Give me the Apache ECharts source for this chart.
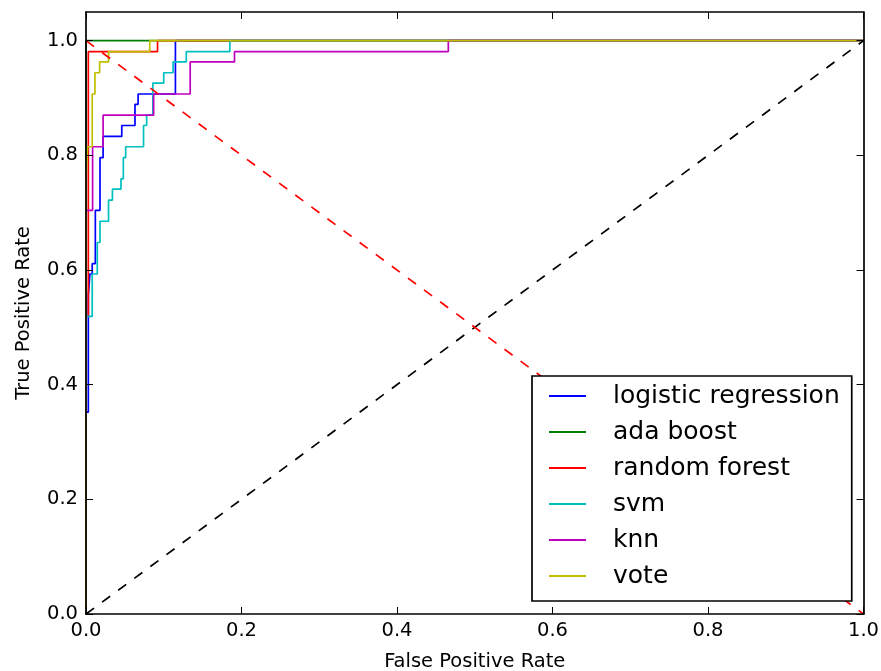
<!DOCTYPE html>
<html>
<head>
<meta charset="utf-8">
<title>ROC curves</title>
<script src="https://cdn.jsdelivr.net/npm/echarts@6/dist/echarts.min.js"></script>
<style>
  html, body { margin: 0; padding: 0; background: #ffffff; }
  #chart { width: 881px; height: 671px; }
</style>
</head>
<body>
<div id="chart"></div>
<script>
// ROC curve points [false positive rate, true positive rate] per model
const logisticRoc = [[0,0],[0,0.352],[0.003,0.352],[0.003,0.556],[0.005,0.556],[0.005,0.593],[0.008,0.593],[0.008,0.611],[0.012,0.611],[0.012,0.704],[0.018,0.704],[0.018,0.796],[0.022,0.796],[0.022,0.833],[0.046,0.833],[0.046,0.852],[0.063,0.852],[0.063,0.889],[0.067,0.889],[0.067,0.907],[0.115,0.907],[0.115,1],[1,1]];
const adaBoostRoc = [[0,0],[0,1],[1,1]];
const forestRoc = [[0,0],[0,0.519],[0.003,0.519],[0.003,0.981],[0.092,0.981],[0.092,1],[1,1]];
const svmRoc = [[0,0],[0,0.519],[0.008,0.519],[0.008,0.593],[0.0145,0.593],[0.0145,0.648],[0.018,0.648],[0.018,0.685],[0.029,0.685],[0.029,0.722],[0.034,0.722],[0.034,0.741],[0.045,0.741],[0.045,0.759],[0.048,0.759],[0.048,0.796],[0.051,0.796],[0.051,0.815],[0.074,0.815],[0.074,0.852],[0.078,0.852],[0.078,0.870],[0.086,0.870],[0.086,0.926],[0.100,0.926],[0.100,0.944],[0.112,0.944],[0.112,0.963],[0.129,0.963],[0.129,0.981],[0.185,0.981],[0.185,1],[1,1]];
const knnRoc = [[0,0],[0,0.704],[0.0085,0.704],[0.0085,0.815],[0.022,0.815],[0.022,0.870],[0.087,0.870],[0.087,0.907],[0.134,0.907],[0.134,0.963],[0.191,0.963],[0.191,0.981],[0.466,0.981],[0.466,1],[1,1]];
const voteRoc = [[0,0],[0,0.759],[0.002,0.759],[0.002,0.815],[0.008,0.815],[0.008,0.907],[0.0115,0.907],[0.0115,0.944],[0.0175,0.944],[0.0175,0.963],[0.029,0.963],[0.029,0.981],[0.082,0.981],[0.082,1],[1,1]];

// reference lines
const chanceLine = [[0,0],[1,1]];
const inverseLine = [[0,1],[1,0]];

const modelNames = ['logistic regression', 'ada boost', 'random forest', 'svm', 'knn', 'vote'];
const modelCurves = [logisticRoc, adaBoostRoc, forestRoc, svmRoc, knnRoc, voteRoc];
const modelColors = ['#0000ff', '#008000', '#ff0000', '#00bfbf', '#bf00bf', '#bfbf00'];

const xTicks = [0, 0.2, 0.4, 0.6, 0.8, 1.0];
const yTicks = [0, 0.2, 0.4, 0.6, 0.8, 1.0];

const FONT = 'DejaVu Sans';

function axisBase(position, ticks, showLabels) {
  return {
    type: 'value',
    position: position,
    min: 0,
    z: 5,
    axisLine: { show: true, onZero: false, lineStyle: { color: '#000', width: 1.7 } },
    axisTick: { show: true, inside: true, length: 7, customValues: ticks, lineStyle: { color: '#000', width: 1 } },
    axisLabel: {
      show: showLabels,
      customValues: ticks,
      formatter: v => v.toFixed(1),
      color: '#000',
      fontFamily: FONT,
      fontSize: 19.5
    },
    splitLine: { show: false }
  };
}

const xBottom = Object.assign(axisBase('bottom', xTicks, true), {
  max: 1,
  name: 'False Positive Rate',
  nameLocation: 'middle',
  nameGap: 38,
  nameTextStyle: { color: '#000', fontFamily: FONT, fontSize: 19.5 }
});
xBottom.axisLabel.margin = 7;
const xTop = Object.assign(axisBase('top', xTicks, false), { max: 1 });

const yLeft = Object.assign(axisBase('left', yTicks, true), {
  max: 1.05,
  name: 'True Positive Rate',
  nameLocation: 'middle',
  nameGap: 52,
  nameTextStyle: { color: '#000', fontFamily: FONT, fontSize: 19.5 }
});
yLeft.axisLabel.margin = 8;
const yRight = Object.assign(axisBase('right', yTicks, false), { max: 1.05 });

const series = modelCurves.map((curve, i) => ({
  name: modelNames[i],
  type: 'line',
  data: curve,
  xAxisIndex: 0,
  yAxisIndex: 0,
  symbol: 'none',
  clip: false,
  lineStyle: { color: modelColors[i], width: 1.7 },
  itemStyle: { color: modelColors[i] },
  z: 2 + i * 0.01
}));

series.push({
  type: 'line',
  data: chanceLine,
  symbol: 'none',
  lineStyle: { color: '#000', width: 1.7, type: [10, 10] },
  z: 3
});
series.push({
  type: 'line',
  data: inverseLine,
  symbol: 'none',
  lineStyle: { color: '#ff0000', width: 1.7, type: [10, 10] },
  z: 3
});

const chart = echarts.init(document.getElementById('chart'), null, { renderer: 'canvas' });
chart.setOption({
  animation: false,
  backgroundColor: '#ffffff',
  grid: { left: 86, right: 17.5, top: 12, bottom: 57, containLabel: false, outerBoundsMode: 'none' },
  xAxis: [xBottom, xTop],
  yAxis: [yLeft, yRight],
  legend: {
    data: modelNames,
    orient: 'vertical',
    left: 532,
    top: 376,
    padding: [5, 12, 10, 16],
    itemGap: 6,
    itemWidth: 37,
    itemHeight: 14,
    itemStyle: { opacity: 0 },
    backgroundColor: '#ffffff',
    borderColor: '#000',
    borderWidth: 1.7,
    borderRadius: 0,
    z: 10,
    textStyle: {
      color: '#000',
      fontFamily: FONT,
      fontSize: 25,
      lineHeight: 30,
      padding: [0, 0, 0, 22]
    }
  },
  series: series
});
</script>
</body>
</html>
